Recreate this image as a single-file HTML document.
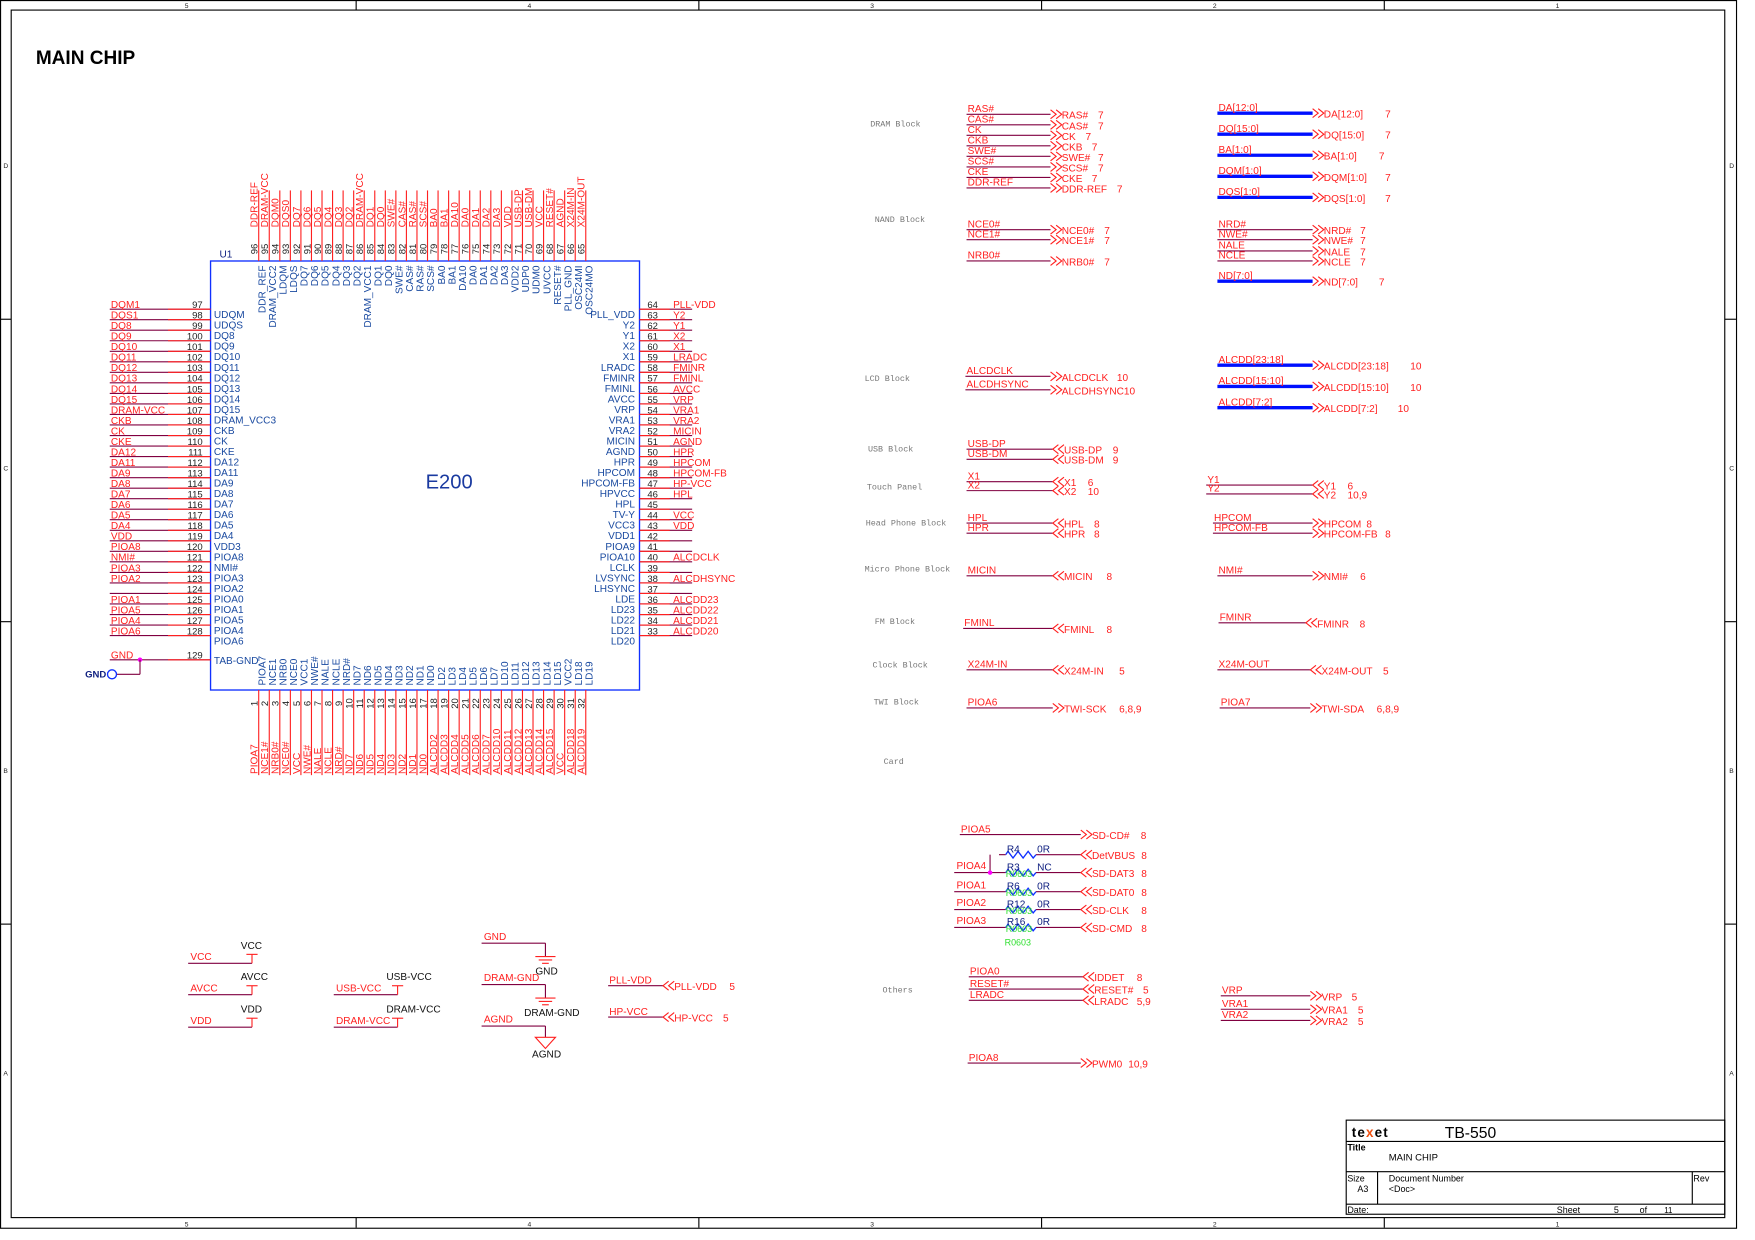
<!DOCTYPE html>
<html><head><meta charset="utf-8"><style>
html,body{margin:0;padding:0;background:#fff}
svg{display:block}
text{font-family:"Liberation Sans",sans-serif}
.net{fill:#ff2020;font-size:9px}
.pin{fill:#222;font-size:8.5px}
.inn{fill:#1a4aa0;font-size:9px}
.blk{fill:#777;font-family:"Liberation Mono",monospace;font-size:7.5px}
.blk2{fill:#111;font-size:9px}
</style></head><body>
<svg id="s" width="1755" height="1240" viewBox="0 0 1567 1107" preserveAspectRatio="none" xmlns="http://www.w3.org/2000/svg">
<rect x="0.5" y="0.5" width="1550" height="1096" fill="none" stroke="#000"/>
<rect x="10" y="9" width="1530" height="1078" fill="none" stroke="#000"/>
<text x="32" y="57" style="font-size:17px;font-weight:bold">MAIN CHIP</text>
<rect x="188" y="233" width="383" height="383" fill="none" stroke="#1030ff" stroke-width="1.2"/>
<text x="196" y="230" class="inn" style="fill:#102080">U1</text>
<text x="380" y="436" style="font-size:18px;fill:#1a3aa0">E200</text>
<g id="g"></g>
<g>
<rect x="1202" y="1000" width="338" height="84" fill="none" stroke="#000"/>
<line x1="1202" y1="1019" x2="1540" y2="1019" stroke="#000"/>
<line x1="1202" y1="1046" x2="1540" y2="1046" stroke="#000"/>
<line x1="1202" y1="1075" x2="1540" y2="1075" stroke="#000"/>
<line x1="1230" y1="1046" x2="1230" y2="1075" stroke="#000"/>
<line x1="1511" y1="1046" x2="1511" y2="1075" stroke="#000"/>
<text x="1207" y="1015" style="font-size:12px;font-weight:bold;letter-spacing:1px">te<tspan fill="#f05010">x</tspan>et</text>
<text x="1290" y="1016" style="font-size:14px;font-family:'Liberation Sans Narrow','Liberation Sans',sans-serif">TB-550</text>
<text x="1203" y="1027" style="font-size:8px;font-weight:bold">Title</text>
<text x="1240" y="1036" style="font-size:8.5px">MAIN CHIP</text>
<text x="1203" y="1055" style="font-size:8px">Size</text>
<text x="1212" y="1064" style="font-size:8px">A3</text>
<text x="1240" y="1055" style="font-size:8px">Document Number</text>
<text x="1240" y="1064" style="font-size:8px">&lt;Doc&gt;</text>
<text x="1512" y="1055" style="font-size:8px">Rev</text>
<text x="1203" y="1083" style="font-size:8px">Date:</text>
<text x="1390" y="1083" style="font-size:8px">Sheet</text>
<text x="1441" y="1083" style="font-size:8px">5</text>
<text x="1464" y="1083" style="font-size:8px">of</text>
<text x="1486" y="1083" style="font-size:7px">11</text>
</g>
</svg>
<script>
const NS="http://www.w3.org/2000/svg";
const G=document.getElementById('g');
const W="#800040", R="#ff2020";
function el(t,a,txt){const e=document.createElementNS(NS,t);for(const k in a)e.setAttribute(k,a[k]);if(txt!==undefined)e.textContent=txt;G.appendChild(e);return e;}
function ln(x1,y1,x2,y2,c,w){return el('line',{x1,y1,x2,y2,stroke:c||W,'stroke-width':w||1});}
function tx(x,y,s,cls,extra){const a={x,y,class:cls};if(extra)Object.assign(a,extra);return el('text',a,s);}

// frame zone markers
const colLabels=["5","4","3","2","1"];
const rowLabels=["D","C","B","A"];
colLabels.forEach((c,i)=>{const x=165+i*306;
 let t=tx(x,7,c,'pin',{style:'font-size:6px'});
 tx(x,1095,c,'pin',{style:'font-size:6px'});
 if(i>0){ln(x-153,0,x-153,9,'#000');ln(x-153,1087,x-153,1096,'#000');}
});
rowLabels.forEach((r,i)=>{const y=150+i*270;
 let t=tx(3,y,r,'pin',{style:'font-size:6px'});
 tx(1544,y,r,'pin',{style:'font-size:6px'});
 if(i>0){ln(0,y-135,10,y-135,'#000');ln(1540,y-135,1550,y-135,'#000');}
});

// chip pins
const leftNums=[97,98,99,100,101,102,103,104,105,106,107,108,109,110,111,112,113,114,115,116,117,118,119,120,121,122,123,124,125,126,127,128];
const leftNames=["UDQM","UDQS","DQ8","DQ9","DQ10","DQ11","DQ12","DQ13","DQ14","DQ15","DRAM_VCC3","CKB","CK","CKE","DA12","DA11","DA9","DA8","DA7","DA6","DA5","DA4","VDD3","PIOA8","NMI#","PIOA3","PIOA2","PIOA0","PIOA1","PIOA5","PIOA4","PIOA6"];
const leftNets=["DQM1","DQS1","DQ8","DQ9","DQ10","DQ11","DQ12","DQ13","DQ14","DQ15","DRAM-VCC","CKB","CK","CKE","DA12","DA11","DA9","DA8","DA7","DA6","DA5","DA4","VDD","PIOA8","NMI#","PIOA3","PIOA2","","PIOA1","PIOA5","PIOA4","PIOA6"];
const rightNums=[64,63,62,61,60,59,58,57,56,55,54,53,52,51,50,49,48,47,46,45,44,43,42,41,40,39,38,37,36,35,34,33];
const rightNames=["PLL_VDD","Y2","Y1","X2","X1","LRADC","FMINR","FMINL","AVCC","VRP","VRA1","VRA2","MICIN","AGND","HPR","HPCOM","HPCOM-FB","HPVCC","HPL","TV-Y","VCC3","VDD1","PIOA9","PIOA10","LCLK","LVSYNC","LHSYNC","LDE","LD23","LD22","LD21","LD20"];
const rightNets=["PLL-VDD","Y2","Y1","X2","X1","LRADC","FMINR","FMINL","AVCC","VRP","VRA1","VRA2","MICIN","AGND","HPR","HPCOM","HPCOM-FB","HP-VCC","HPL","","VCC","VDD","","","ALCDCLK","","ALCDHSYNC","","ALCDD23","ALCDD22","ALCDD21","ALCDD20"];
const topNums=[96,95,94,93,92,91,90,89,88,87,86,85,84,83,82,81,80,79,78,77,76,75,74,73,72,71,70,69,68,67,66,65];
const topNames=["DDR_REF","DRAM_VCC2","LDQM","LDQS","DQ7","DQ6","DQ5","DQ4","DQ3","DQ2","DRAM_VCC1","DQ1","DQ0","SWE#","CAS#","RAS#","SCS#","BA0","BA1","DA10","DA0","DA1","DA2","DA3","VDD2","UDP0","UDM0","UVCC","RESET#","PLL_GND","OSC24MI","OSC24MO"];
const topNets=["DDR-REF","DRAM-VCC","DQM0","DQS0","DQ7","DQ6","DQ5","DQ4","DQ3","DQ2","DRAM-VCC","DQ1","DQ0","SWE#","CAS#","RAS#","SCS#","BA0","BA1","DA10","DA0","DA1","DA2","DA3","VDD","USB-DP","USB-DM","VCC","RESET#","AGND","X24M-IN","X24M-OUT"];
const botNames=["PIOA7","NCE1","NRB0","NCE0","VCC1","NWE#","NALE","NCLE","NRD#","ND7","ND6","ND5","ND4","ND3","ND2","ND1","ND0","LD2","LD3","LD4","LD5","LD6","LD7","LD10","LD11","LD12","LD13","LD14","LD15","VCC2","LD18","LD19"];
const botNets=["PIOA7","NCE1#","NRB0#","NCE0#","VCC","NWE#","NALE","NCLE","NRD#","ND7","ND6","ND5","ND4","ND3","ND2","ND1","ND0","ALCDD2","ALCDD3","ALCDD4","ALCDD5","ALCDD6","ALCDD7","ALCDD10","ALCDD11","ALCDD12","ALCDD13","ALCDD14","ALCDD15","VCC","ALCDD18","ALCDD19"];

const PY0=276, PST=9.4, PX0=228, PXS=9.42;
leftNums.forEach((n,i)=>{const y=PY0+i*PST;
 const l=ln(98,y,188,y,W);
 
 ln(150,y,188,y,R);
 tx(181,y-1,String(n),'pin',{'text-anchor':'end'});
 tx(191,y+8,leftNames[i],'inn');
 if(leftNets[i])tx(99,y-1,leftNets[i],'net');
});
rightNums.forEach((n,i)=>{const y=PY0+i*PST;
 const l=ln(571,y,618,y,W);
 
 ln(571,y,598,y,R);
 tx(578,y-1,String(n),'pin');
 tx(567,y+8,rightNames[i],'inn',{'text-anchor':'end'});
 if(rightNets[i])tx(601,y-1,rightNets[i],'net');
});
topNums.forEach((n,i)=>{const x=PX0+i*PXS+3;
 const l=ln(x,170,x,233,R);
 
 tx(0,0,String(n),'pin',{transform:`translate(${x-1},227) rotate(-90)`});
 tx(0,0,topNets[i],'net',{transform:`translate(${x-1},203) rotate(-90)`});
 tx(0,0,topNames[i],'inn',{transform:`translate(${x+6},237) rotate(-90)`,'text-anchor':'end'});
});
botNames.forEach((nm,i)=>{const x=PX0+i*PXS+3;const n=i+1;
 const l=ln(x,616,x,692,R);
 
 tx(0,0,String(n),'pin',{transform:`translate(${x-1},628) rotate(-90)`,'text-anchor':'middle'});
 tx(0,0,botNets[i],'net',{transform:`translate(${x-1},691) rotate(-90)`});
 tx(0,0,nm,'inn',{transform:`translate(${x+6},612) rotate(-90)`});
});
// pin 129 GND
ln(98,589,188,589,W);ln(150,589,188,589,R);
tx(181,588,"129",'pin',{'text-anchor':'end'});tx(191,593,"TAB-GND",'inn');tx(99,588,"GND",'net');
el('circle',{cx:125,cy:589,r:2,fill:'#ff00ff'});
ln(125,589,125,602);ln(104,602,125,602);
const gp=el('circle',{cx:100,cy:602,r:4,fill:'none',stroke:'#1030ff','stroke-width':1.2});

tx(76,605,"GND",'inn',{style:'font-size:8.5px;font-weight:bold;fill:#102080'});

// connectors
function conn(x,y,dir){ // dir 1 = output (>>), -1 = input (<<)
 let d='';
 for(let k=0;k<2;k++){const bx=x+k*5;
  if(dir>0)d+=`M${bx} ${y-4}L${bx+5} ${y}L${bx} ${y+4}`;
  else d+=`M${bx+5} ${y-4}L${bx} ${y}L${bx+5} ${y+4}`;}
 return el('path',{d,fill:'none',stroke:R,'stroke-width':1});
}
function port(x1,x2,y,net,label,ref,dir,bus,name){
 const w=ln(x1,y,x2,y,bus?'#0010ff':W,bus?3:1);
 
 const c=conn(x2,y,dir);
 
 if(net)tx(x1+1,y-2,net,'net');
 tx(x2+10,y+4,label,'net');
 if(ref)tx(x2+10+label.length*5.6+10,y+4,ref,'net');
}
// left column ports
const dramNets=["RAS#","CAS#","CK","CKB","SWE#","SCS#","CKE","DDR-REF"];
dramNets.forEach((n,i)=>port(863,938,102+i*9.4,n,n,"7",1,false,'dram-'+n.toLowerCase().replace('#','')));
const busNets=["DA[12:0]","DQ[15:0]","BA[1:0]","DQM[1:0]","DQS[1:0]"];
busNets.forEach((n,i)=>port(1087,1172,101+i*18.8,n,n,"7",1,true,'bus-'+i));
const nandL=[["NCE0#",205],["NCE1#",214],["NRB0#",233]];
nandL.forEach(([n,y],i)=>port(863,938,y,n,n,"7",1,false,'nand-l-'+i));
const nandR=[["NRD#",205],["NWE#",214],["NALE",224],["NCLE",233]];
nandR.forEach(([n,y],i)=>port(1087,1172,y,n,n,"7",1,false,'nand-r-'+i));
port(1087,1172,251,"ND[7:0]","ND[7:0]","7",1,true,'bus-nd');
port(862,938,336,"ALCDCLK","ALCDCLK","10",1,false,'lcd-clk');
port(862,938,348,"ALCDHSYNC","ALCDHSYNC10","",1,false,'lcd-hsync');
const lcdBus=["ALCDD[23:18]","ALCDD[15:10]","ALCDD[7:2]"];
lcdBus.forEach((n,i)=>port(1087,1172,326+i*19,n,n,"10",1,true,'lcd-bus-'+i));
port(863,940,401,"USB-DP","USB-DP","9",-1,false,'usb-dp');
port(863,940,410,"USB-DM","USB-DM","9",-1,false,'usb-dm');
port(863,940,430,"X1","X1","6",-1,false,'touch-x1');
port(863,940,438,"X2","X2","10",-1,false,'touch-x2');
port(1077,1172,433,"Y1","Y1","6",-1,false,'touch-y1');
port(1077,1172,441,"Y2","Y2","10,9",-1,false,'touch-y2');
port(863,940,467,"HPL","HPL","8",-1,false,'hp-hpl');
port(863,940,476,"HPR","HPR","8",-1,false,'hp-hpr');
port(1083,1172,467,"HPCOM","HPCOM","8",1,false,'hp-hpcom');
port(1083,1172,476,"HPCOM-FB","HPCOM-FB","8",1,false,'hp-hpcomfb');
port(863,940,514,"MICIN","MICIN","8",-1,false,'mic-micin');
port(1087,1172,514,"NMI#","NMI#","6",1,false,'nmi');
port(860,940,561,"FMINL","FMINL","8",-1,false,'fm-l');
port(1088,1166,556,"FMINR","FMINR","8",-1,false,'fm-r');
port(863,940,598,"X24M-IN","X24M-IN","5",-1,false,'clk-in');
port(1087,1170,598,"X24M-OUT","X24M-OUT","5",-1,false,'clk-out');
port(863,940,632,"PIOA6","TWI-SCK","6,8,9",1,false,'twi-sck');
port(1089,1170,632,"PIOA7","TWI-SDA","6,8,9",1,false,'twi-sda');
port(865,967,872,"PIOA0","IDDET","8",-1,false,'oth-iddet');
port(865,967,883,"RESET#","RESET#","5",-1,false,'oth-reset');
port(865,967,893,"LRADC","LRADC","5,9",-1,false,'oth-lradc');
port(1090,1170,889,"VRP","VRP","5",1,false,'oth-vrp');
port(1090,1170,901,"VRA1","VRA1","5",1,false,'oth-vra1');
port(1090,1170,911,"VRA2","VRA2","5",1,false,'oth-vra2');
port(864,965,949,"PIOA8","PWM0","10,9",1,false,'oth-pwm0');
port(543,592,880,"PLL-VDD","PLL-VDD","5",-1,false,'pll-vdd');
port(543,592,908,"HP-VCC","HP-VCC","5",-1,false,'hp-vcc');
// card block
port(857,965,745,"PIOA5","SD-CD#","8",1,false,'sd-cd');
const cardNet=["","PIOA4","PIOA1","PIOA2","PIOA3"];
const cardPort=["DetVBUS","SD-DAT3","SD-DAT0","SD-CLK","SD-CMD"];
const cardRes=["R4","R3","R6","R12","R16"];
const cardVal=["0R","NC","0R","0R","0R"];
const cardY=[763,779,796,812,828];
cardY.forEach((y,i)=>{
 const x1=i==0?892:852;
 ln(x1,y,898,y);ln(925,y,965,y);
 let p=`M898 ${y}`;for(let k=0;k<6;k++)p+=`L${900+k*4.5} ${y+(k%2?3:-3)}`;p+=`L925 ${y}`;
 const r=el('path',{d:p,fill:'none',stroke:'#1030ff','stroke-width':1.2});
 
 tx(899,y-2,cardRes[i],'inn',{style:'fill:#102080'});
 tx(926,y-2,cardVal[i],'inn',{style:'fill:#102080'});
 if(i>0&&i<5)tx(898,y+4,'R0603','net',{style:'fill:#30e030;font-size:8px'});
 if(cardNet[i])tx(x1+2,y-3,cardNet[i],'net');
 const c=conn(965,y,-1);
 tx(975,y+4,cardPort[i],'net');tx(1019,y+4,"8",'net');
});
ln(884,763,884,779);el('circle',{cx:884,cy:779,r:2,fill:'#ff00ff'});
tx(897,844,'R0603','net',{style:'fill:#30e030;font-size:8px'});

// block labels
const blocks=[["DRAM Block",777,113],["NAND Block",781,198],["LCD Block",772,340],["USB Block",775,403],["Touch Panel",774,437],["Head Phone Block",773,469],["Micro Phone Block",772,510],["FM Block",781,557],["Clock Block",779,596],["TWI Block",780,629],["Card",789,682],["Others",788,886]];
blocks.forEach(([s,x,y])=>{const t=tx(x,y,s,'blk');});

// power symbols
function pwr(x1,x2,y,net,sym){ln(x1,y,x2,y);ln(x2,y,x2,y-8,R);ln(x2-5,y-8,x2+5,y-8,R);tx(x1+2,y-3,net,'net');tx(x2-10,y-13,sym,'blk2');}
pwr(168,225,860,"VCC","VCC");pwr(168,225,888,"AVCC","AVCC");pwr(168,225,917,"VDD","VDD");
pwr(298,355,888,"USB-VCC","USB-VCC");pwr(298,355,917,"DRAM-VCC","DRAM-VCC");
function gnd(x1,x2,y,net,sym,sx){ln(x1,y,x2,y);ln(x2,y,x2,y+12);ln(x2-9,y+12,x2+9,y+12,R);ln(x2-6,y+15,x2+6,y+15,R);ln(x2-3,y+18,x2+3,y+18,R);tx(x1+2,y-3,net,'net');tx(sx,y+28,sym,'blk2');}
gnd(430,487,842,"GND","GND",478);gnd(430,487,879,"DRAM-GND","DRAM-GND",468);
ln(430,916,487,916);ln(487,916,487,926);el('path',{d:'M478 926L496 926L487 936Z',fill:'none',stroke:R});
tx(432,913,"AGND",'net');tx(475,944,"AGND",'blk2');
</script>
</body></html>
